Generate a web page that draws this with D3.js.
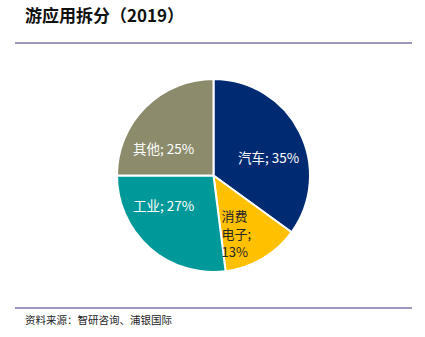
<!DOCTYPE html>
<html><head><meta charset="utf-8">
<script src="https://cdn.jsdelivr.net/npm/d3@7"></script>
<style>body{margin:0;background:#fff}svg{display:block}</style>
</head><body>
<svg id="c" width="425" height="337"></svg>
<script>
const categories = ["汽车", "消费电子", "工业", "其他"];
const values = [35, 13, 27, 25];
const labelLines = [["汽车; 35%"], ["消费", "电子;", "13%"], ["工业; 27%"], ["其他; 25%"]];
const colors = ["#002A72", "#FFC000", "#009999", "#8C8B6C"];
const textColors = ["#ffffff", "#262626", "#ffffff", "#ffffff"];
const title = "游应用拆分（2019）";
const source = "资料来源：智研咨询、浦银国际";

const svg = d3.select("#c");
const font = "'Noto Sans CJK SC', 'Noto Sans', sans-serif";

svg.append("text").attr("x", 25).attr("y", 22).attr("font-family", font)
  .attr("font-size", 17).attr("font-weight", "bold").attr("fill", "#111").text(title);
svg.append("line").attr("x1", 15).attr("x2", 412).attr("y1", 43).attr("y2", 43)
  .attr("stroke", "#7b76a6").attr("stroke-width", 1.5);
svg.append("line").attr("x1", 15).attr("x2", 412).attr("y1", 308).attr("y2", 308)
  .attr("stroke", "#7b76a6").attr("stroke-width", 1.5);
svg.append("text").attr("x", 25).attr("y", 324).attr("font-family", font)
  .attr("font-size", 10.5).attr("fill", "#222").text(source);

const cx = 213.5, cy = 175.5, r = 96.5;
const pie = d3.pie().sort(null).value(d => d)(values);
const arc = d3.arc().innerRadius(0).outerRadius(r);
const g = svg.append("g").attr("transform", `translate(${cx},${cy})`);
g.selectAll("path").data(pie).join("path")
  .attr("d", arc).attr("fill", (d, i) => colors[i])
  .attr("stroke", "#fff").attr("stroke-width", 2).attr("stroke-linejoin", "round");

const labelPos = [[55, -18], [8, 58], [-50, 30], [-50, -27]];
const anchors = ["middle", "start", "middle", "middle"];
pie.forEach((d, i) => {
  const t = g.append("text").attr("font-family", font).attr("font-size", i === 1 ? 13 : 13.5)
    .attr("fill", textColors[i]).attr("text-anchor", anchors[i]);
  const lines = labelLines[i];
  const lh = 18;
  const x = labelPos[i][0];
  const y0 = labelPos[i][1] - (lines.length - 1) * lh / 2 + 5;
  lines.forEach((s, k) => t.append("tspan").attr("x", x).attr("y", y0 + k * lh).text(s));
});
</script>
</body></html>
